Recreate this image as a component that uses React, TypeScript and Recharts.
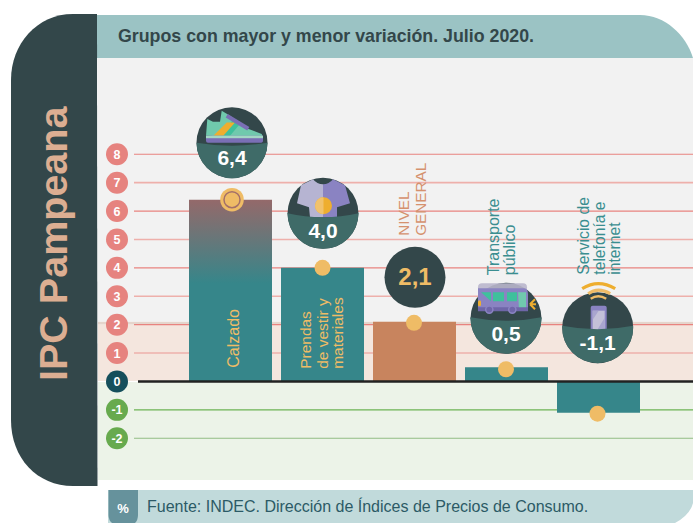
import * as React from 'react';
import { Bar, BarChart, Cell, LabelList, ReferenceArea, ReferenceLine, XAxis, YAxis } from 'recharts';

const categories = ['Calzado', 'Prendas de vestir y materiales', 'NIVEL GENERAL', 'Transporte público', 'Servicio de telefonía e internet'];
const values = [6.4, 4.0, 2.1, 0.5, -1.1];
const tickValues = [8, 7, 6, 5, 4, 3, 2, 1, 0, -1, -2];
const positiveTicks = [8, 7, 6, 5, 4, 3, 2, 1];
const negativeTicks = [-1, -2];
const categoryLines = [
  ['Calzado'],
  ['Prendas', 'de vestir y', 'materiales'],
  ['NIVEL', 'GENERAL'],
  ['Transporte', 'público'],
  ['Servicio de', 'telefonía e', 'internet'],
];

const data = categories.map((categoria, i) => ({ categoria, valor: values[i] }));

const SANS = '"Liberation Sans", Arial, sans-serif';
const DARK = '#33474a';
const TEAL = '#36868a';
const GOLD = '#efbc66';
const COPPER = '#c8845e';
const PURPLE = '#8a83c2';

// ajustes de cada burbuja respecto del extremo de la barra
const bubbleLayout = [
  { dx: 1.5, dy: -57, r: 35.5, sy: 0, dip: 3, textY: 22 },
  { dx: 0.5, dy: -54.5, r: 35.5, sy: 0, dip: 4, textY: 24.5 },
  { dx: 0.5, dy: -44.5, r: 30.5, sy: 0, dip: 0, textY: 7.5 },
  { dx: -0.5, dy: -49, r: 35.5, sy: -1, dip: 3.5, textY: 23 },
  { dx: -0.8, dy: -85, r: 35.5, sy: -2, dip: 3.5, textY: 22 },
];
const textLayout = [
  { xs: [8.8], dy: 168, color: GOLD, size: 16 },
  { xs: [-11.5, 5.5, 20.5], dy: 101, color: GOLD, size: 15.5 },
  { xs: [-5.5, 11.5], dy: -86, color: '#d5916e', size: 15.3 },
  { xs: [-7.5, 8.5], dy: -92, color: '#3a8e90', size: 16 },
  { xs: [-9.5, 6.5, 22], dy: -138, color: '#3a8e90', size: 15.7 },
];
const dotLayout = [
  { dx: 1.5, dy: 0 },
  { dx: 0, dy: 0 },
  { dx: -0.5, dy: 1 },
  { dx: -0.5, dy: 2 },
  { dx: -1, dy: 1 },
];

function ShoeIcon() {
  return (
    <g>
      <path d="M-26,-7 L-24.7,-23.7 L-19,-21 L-12,-21 L-10.3,-32 L-2,-27 L16,-14 L29.7,-8.7 L31,-5 Z" fill="#70c9ad" />
      <path d="M-12,-7 L2,-24 L9,-20 L-2,-7 Z" fill="#3fc09c" />
      <path d="M-18.7,-7 L-5.3,-20.3 L3,-20.3 L-8.7,-7 Z" fill="#eeae2f" />
      <path d="M-5.3,-27 L16.3,-14" stroke="#7a6fb5" strokeWidth={4} />
      <path d="M-26,-7 H31 V-2 Q31,0 28,0 H-24 Q-26,0 -26,-2 Z" fill="#7a6fb5" />
      <rect x={-26} y={-7} width={57} height={2.5} fill="#a3d7c4" />
    </g>
  );
}

function ShirtIcon() {
  return (
    <g>
      <path d="M-10,-34 L-22,-28 L-26,-10 L-14,-6 L-13,4 L0,4 L0,-29 Q-6,-29 -10,-34 Z" fill="#b6b4d2" />
      <path d="M10,-34 L22,-28 L27,-10 L14,-6 L14,4 L0,4 L0,-29 Q6,-29 10,-34 Z" fill={PURPLE} />
      <circle cx={0.5} cy={-7.5} r={8.5} fill="#eeae2f" />
      <path d="M0.5,-16 A8.5,8.5 0 0 0 0.5,1 Z" fill="#f1c26c" />
    </g>
  );
}

function BusIcon() {
  return (
    <g>
      <rect x={-28} y={-35} width={49} height={26} rx={4} fill="#b9b6cc" opacity={0.9} />
      <path d="M-28,-30 H18 Q22,-30 22,-24 V-10 H-28 Z" fill={PURPLE} />
      <path d="M-25,-26 H-15 V-17 Z M-13,-26 H-2 V-17 H-13 Z M1,-26 H11 V-17 H1 Z" fill="#3fc09c" />
      <path d="M12,-26 H20 V-9 H13 Z" fill="#70c9ad" />
      <rect x={-28} y={-11} width={50} height={4} fill="#6f66a8" />
      <circle cx={-16.7} cy={-8.7} r={3.6} fill="#6f66a8" stroke={PURPLE} strokeWidth={1.5} />
      <circle cx={6.3} cy={-8.7} r={3.6} fill="#6f66a8" stroke={PURPLE} strokeWidth={1.5} />
      <rect x={-28} y={-18} width={3} height={6} rx={1.5} fill="#eeae2f" />
      <path d="M24,-14 L29,-19 M24,-14 H30 M24,-14 L29,-9" stroke="#eeae2f" strokeWidth={2} />
    </g>
  );
}

function PhoneIcon() {
  return (
    <g>
      <path d="M-15.5,-39 Q0.5,-49 17.5,-39" stroke="#eeae2f" strokeWidth={3.2} fill="none" />
      <path d="M-9.5,-34 Q0.5,-41 12.5,-34" stroke={GOLD} strokeWidth={3.2} fill="none" />
      <path d="M-7,-29 Q0.5,-34 8.5,-29" stroke={GOLD} strokeWidth={2.4} fill="none" />
      <rect x={-7} y={-22} width={16} height={25} rx={2} fill={PURPLE} />
      <path d="M-5,-17 H7 V3 H-5 Z" fill="#c3c0d8" />
      <path d="M7,-10 L-1,3 H7 Z M-5,-17 H1 L-5,-8 Z" fill="#a9a5cf" />
    </g>
  );
}

const icons = [<ShoeIcon />, <ShirtIcon />, null, <BusIcon />, <PhoneIcon />];

function Bubble({ cx, cy, index, value }: { cx: number; cy: number; index: number; value: number }) {
  const { r, sy, dip, textY } = bubbleLayout[index];
  const texto = value.toFixed(1).replace('.', ',');
  const half = Math.sqrt(r * r - sy * sy);
  const esNivel = index === 2;
  return (
    <g transform={`translate(${cx},${cy})`}>
      <circle r={r} fill={DARK} />
      {icons[index]}
      {!esNivel && (
        <path
          d={`M${-half},${sy} Q0,${sy + dip * 2} ${half},${sy} A${r},${r} 0 ${sy < 0 ? 1 : 0} 1 ${-half},${sy} Z`}
          fill="#3f6b68"
        />
      )}
      <text
        x={0}
        y={textY}
        textAnchor="middle"
        fontFamily={SANS}
        fontWeight={700}
        fontSize={esNivel ? 24 : 21}
        fill={esNivel ? GOLD : '#ffffff'}
      >
        {texto}
      </text>
    </g>
  );
}

function BarAnnotation(props: any) {
  const { x, y, width, height, index } = props;
  const value = values[index];
  const end = value >= 0 ? Math.min(y, y + height) : Math.max(y, y + height);
  const center = x + width / 2;
  const bubble = bubbleLayout[index];
  const label = textLayout[index];
  const dot = dotLayout[index];
  return (
    <g>
      {categoryLines[index].map((line, i) => {
        const tx = center + label.xs[i];
        const ty = end + label.dy;
        return (
          <text
            key={line}
            x={tx}
            y={ty}
            transform={`rotate(-90 ${tx} ${ty})`}
            fontFamily={SANS}
            fontSize={label.size}
            fill={label.color}
          >
            {line}
          </text>
        );
      })}
      <Bubble cx={center + bubble.dx} cy={end + bubble.dy} index={index} value={value} />
      {index === 0 && <circle cx={center + dot.dx} cy={end + dot.dy} r={11.8} fill={GOLD} />}
      {index === 0 && <circle cx={center + dot.dx} cy={end + dot.dy} r={8} fill={GOLD} stroke="#a3706a" strokeWidth={1.5} />}
      {index !== 0 && <circle cx={center + dot.dx} cy={end + dot.dy} r={8} fill={GOLD} />}
    </g>
  );
}

function Badge(props: any) {
  const { y, payload } = props;
  const v = payload.value;
  const fill = v > 0 ? '#e6837f' : v === 0 ? '#154f5c' : '#67aa4e';
  return (
    <g>
      <circle cx={117} cy={y} r={11} fill={fill} />
      <text x={117} y={y + 4.5} textAnchor="middle" fontFamily={SANS} fontWeight={700} fontSize={12.5} fill="#ffffff">
        {v}
      </text>
    </g>
  );
}

function GridLine(props: any, color: string, width: number) {
  return <line x1={134} x2={693} y1={props.y1} y2={props.y2} stroke={color} strokeWidth={width} />;
}

function ZeroLine(props: any) {
  return (
    <g>
      <line x1={98} x2={138} y1={props.y1} y2={props.y2} stroke="#ffffff" strokeWidth={1} />
      <line x1={138} x2={693} y1={props.y1} y2={props.y2} stroke="#222222" strokeWidth={2.5} />
    </g>
  );
}

// las bandas ocupan todo el panel, no solo el rango de las barras
function Band(props: any, fill: string) {
  return <rect x={98} y={props.y} width={595} height={props.height} fill={fill} />;
}

function Frame() {
  return (
    <svg width={693} height={523} style={{ position: 'absolute', left: 0, top: 0 }}>
      <path d="M97,15 H640 C665,15 686,35 693,58 H97 Z" fill="#9bc3c4" />
      <path d="M97,14 H73 C37,14 11,44 11,80 V420 C11,458 37,486 73,486 H97.5 Z" fill={DARK} />
      <text
        x={67}
        y={381}
        transform="rotate(-90 67 381)"
        fontFamily={SANS}
        fontWeight={700}
        fontSize={39.5}
        fill="#dcae92"
      >
        IPC Pampeana
      </text>
      <text x={118} y={42} fontFamily={SANS} fontWeight={700} fontSize={17.8} fill={DARK}>
        Grupos con mayor y menor variación. Julio 2020.
      </text>
      <path d="M108,490 H693 V503 Q690,515 675,523 H108 Z" fill="#c1dadb" />
      <path d="M108.5,490 H138 V515 Q138,520 135,523 H112 Q108.5,520 108.5,515 Z" fill="#66929c" />
      <text x={123} y={513} textAnchor="middle" fontFamily={SANS} fontWeight={700} fontSize={13} fill="#ffffff">
        %
      </text>
      <text x={147} y={512} fontFamily={SANS} fontSize={16} fill="#2c5a66">
        Fuente: INDEC. Dirección de Índices de Precios de Consumo.
      </text>
    </svg>
  );
}

export default function App() {
  return (
    <div style={{ position: 'absolute', left: 0, top: 0, width: 693, height: 523 }}>
      <Frame />
      <div style={{ position: 'absolute', left: 0, top: 0 }}>
        <BarChart
          width={693}
          height={523}
          data={data}
          barCategoryGap={4.5}
          margin={{ top: 58, right: 0, bottom: 43, left: 62 }}
        >
          <defs>
            <linearGradient id="calzadoGrad" x1="0" y1="0" x2="0" y2="1">
              <stop offset="0" stopColor="#94696a" />
              <stop offset="0.46" stopColor={TEAL} />
            </linearGradient>
          </defs>
          <XAxis dataKey="categoria" hide padding={{ left: 86.5, right: 48.5 }} />
          <YAxis
            type="number"
            domain={[-3.47, 11.39]}
            ticks={tickValues}
            interval={0}
            width={36}
            axisLine={false}
            tickLine={false}
            tick={<Badge />}
            allowDataOverflow
            zIndex={500}
          />
          <ReferenceArea y1={2.1} y2={11.39} shape={(p: any) => Band(p, '#f2f2f2')} zIndex={10} />
          <ReferenceArea y1={2} y2={2.1} shape={(p: any) => Band(p, '#e5d5cc')} zIndex={10} />
          <ReferenceArea y1={0} y2={2} shape={(p: any) => Band(p, '#f4e6de')} zIndex={10} />
          <ReferenceArea y1={-3.47} y2={0} shape={(p: any) => Band(p, '#ecf3e8')} zIndex={10} />
          {positiveTicks.map((v) => (
            <ReferenceLine
              key={v}
              y={v}
              zIndex={20}
              shape={(p: any) => GridLine(p, v % 2 === 0 ? '#e8837f' : '#eeb0ab', v % 2 === 0 ? 1.2 : 1.6)}
            />
          ))}
          {negativeTicks.map((v) => (
            <ReferenceLine key={v} y={v} zIndex={20} shape={(p: any) => GridLine(p, v === -1 ? '#6cb354' : '#92bd84', 1.2)} />
          ))}
          <Bar dataKey="valor" isAnimationActive={false}>
            {categories.map((c, i) => (
              <Cell key={c} fill={i === 0 ? 'url(#calzadoGrad)' : i === 2 ? COPPER : TEAL} />
            ))}
            <LabelList dataKey="valor" content={<BarAnnotation />} />
          </Bar>
          <ReferenceLine y={0} zIndex={400} shape={ZeroLine} />
        </BarChart>
      </div>
    </div>
  );
}
